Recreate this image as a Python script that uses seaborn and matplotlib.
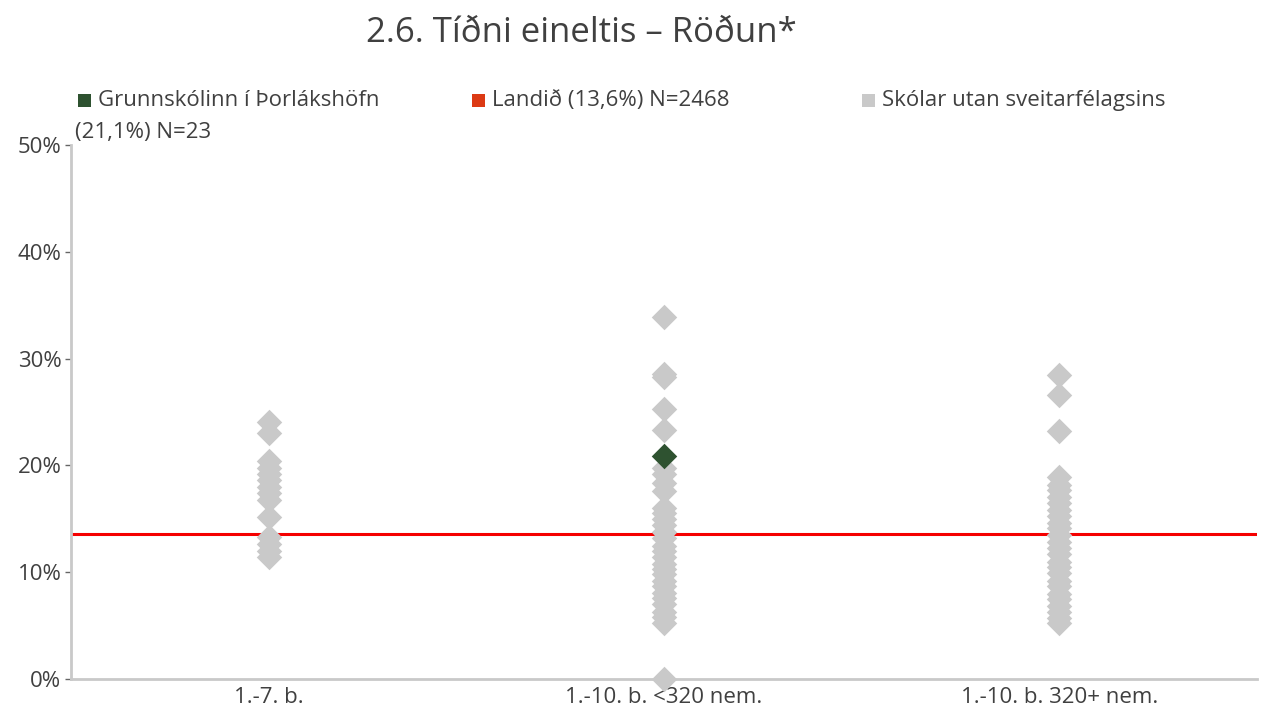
import matplotlib
matplotlib.use("Agg")
import matplotlib.pyplot as plt
import seaborn as sns
import pandas as pd
from matplotlib.patches import Rectangle

categories = ["1.-7. b.", "1.-10. b. <320 nem.", "1.-10. b. 320+ nem."]
grp1_vals = [24.1, 23.0, 20.4, 19.8, 19.2, 18.6, 18.0, 17.4, 16.8, 15.2, 13.3, 12.6, 12.0, 11.4]
grp2_vals = [33.9, 28.6, 28.3, 25.3, 23.3, 19.8, 19.2, 18.4, 17.6, 16.0, 15.5, 15.0, 14.4,
             13.8, 13.2, 12.5, 12.0, 11.4, 10.8, 10.3, 9.8, 9.2, 8.7, 8.1, 7.6, 7.0, 6.3,
             5.8, 5.2, 0.0]
grp3_vals = [28.5, 26.6, 23.2, 18.9, 18.2, 17.7, 17.0, 16.5, 15.8, 15.3, 14.6, 14.1, 13.5,
             12.8, 12.3, 11.7, 11.0, 10.5, 9.9, 9.2, 8.7, 8.0, 7.5, 6.8, 6.3, 5.7, 5.2]
school_cat = "1.-10. b. <320 nem."
school_val = 20.9
national_val = 13.6
yticks = [0, 10, 20, 30, 40, 50]
ytick_labels = ["0%", "10%", "20%", "30%", "40%", "50%"]
legend_labels = ["Grunnskólinn í Þorlákshöfn", "(21,1%) N=23",
                 "Landið (13,6%) N=2468", "Skólar utan sveitarfélagsins"]

GRAY = "#c9c9c9"
GREEN = "#2e5230"
RED = "#f50000"
RED_LEG = "#dc3a14"
TXT = "#404040"

sns.set_theme(style="white")
plt.rcParams["font.family"] = ["Open Sans", "DejaVu Sans"]

df = pd.DataFrame({
    "cat": [categories[0]] * len(grp1_vals) + [categories[1]] * len(grp2_vals)
           + [categories[2]] * len(grp3_vals),
    "val": grp1_vals + grp2_vals + grp3_vals,
})
df_school = pd.DataFrame({"cat": [school_cat], "val": [school_val]})

fig = plt.figure(figsize=(12.64, 7.11), dpi=100)
ax = fig.add_axes([0.0562, 0.045, 0.9383, 0.751])

sns.stripplot(data=df, x="cat", y="val", order=categories, jitter=False, marker="D",
              s=13, color=GRAY, linewidth=0, ax=ax, zorder=3, clip_on=False)
sns.stripplot(data=df_school, x="cat", y="val", order=categories, jitter=False, marker="D",
              s=13, color=GREEN, linewidth=0, ax=ax, zorder=4, clip_on=False)
ax.axhline(national_val, color=RED, lw=2.2, zorder=2)

ax.set_xlim(-0.5, 2.5)
ax.set_ylim(0, 50)
ax.set_yticks(yticks)
ax.set_yticklabels(ytick_labels)
ax.set_xlabel("")
ax.set_ylabel("")
for s in ["top", "right"]:
    ax.spines[s].set_visible(False)
for s in ["left", "bottom"]:
    ax.spines[s].set_color(GRAY)
    ax.spines[s].set_linewidth(2)
ax.tick_params(axis="y", left=True, length=4, width=1, color="#666666", labelsize=16,
               labelcolor=TXT, pad=3)
ax.tick_params(axis="x", bottom=False, labelsize=16, labelcolor=TXT, pad=0)

fig.text(0.46, 0.953, "2.6. Tíðni eineltis – Röðun*", ha="center", va="center",
         fontsize=25, color=TXT)

# legend
ly = 0.858
sq_w, sq_h = 13 / 1264, 13 / 711
items = [(0.0617, GREEN, legend_labels[0]), (0.3734, RED_LEG, legend_labels[2]),
         (0.682, GRAY, legend_labels[3])]
for x0, col, lab in items:
    fig.patches.append(Rectangle((x0, ly - sq_h / 2), sq_w, sq_h, transform=fig.transFigure,
                                 facecolor=col, edgecolor="none", figure=fig))
    fig.text(x0 + 0.0155, ly, lab, ha="left", va="center", fontsize=16, color=TXT)
fig.text(0.0593, ly - 0.045, legend_labels[1], ha="left", va="center", fontsize=16, color=TXT)

fig.savefig("out.png", dpi=100, facecolor="white")
